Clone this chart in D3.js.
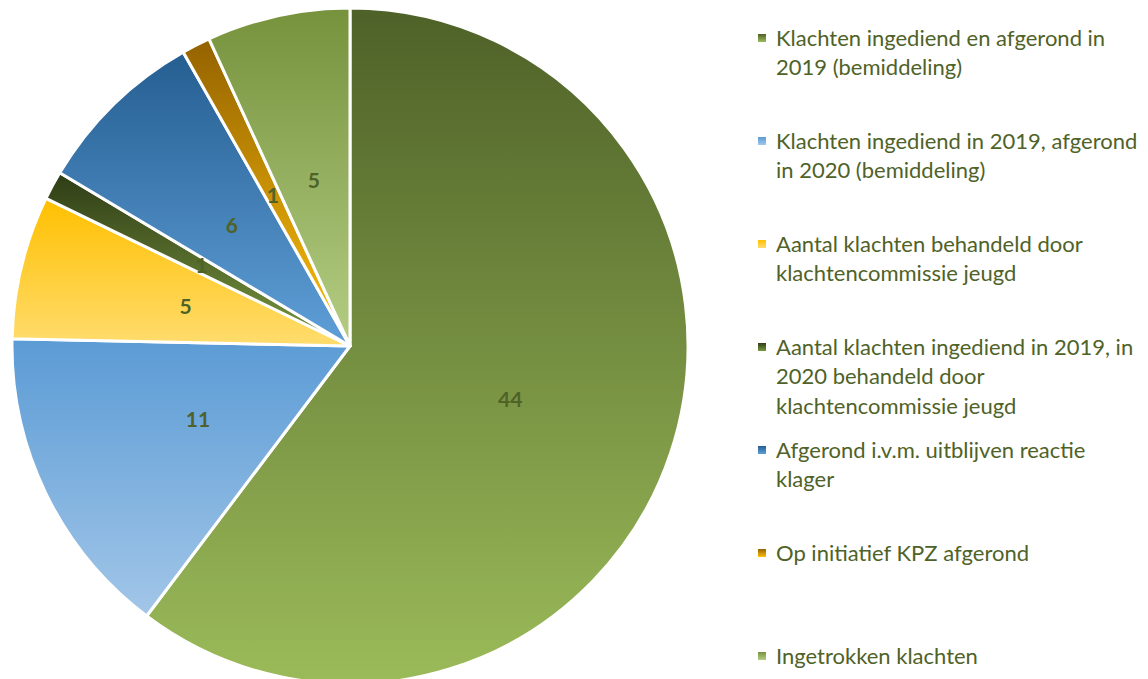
<!DOCTYPE html>
<html>
<head>
<meta charset="utf-8">
<script src="https://cdn.jsdelivr.net/npm/d3@7"></script>
<style>
  body { margin: 0; background: #fff; }
  svg { display: block; }
</style>
</head>
<body>
<div id="chart"></div>
<script>
// ---- data ----
var categories = [
  ["Klachten ingediend en afgerond in", "2019 (bemiddeling)"],
  ["Klachten ingediend in 2019, afgerond", "in 2020 (bemiddeling)"],
  ["Aantal klachten behandeld door", "klachtencommissie jeugd"],
  ["Aantal klachten ingediend in 2019, in", "2020 behandeld door", "klachtencommissie jeugd"],
  ["Afgerond i.v.m. uitblijven reactie", "klager"],
  ["Op initiatief KPZ afgerond"],
  ["Ingetrokken klachten"]
];
var values = [44, 11, 5, 1, 6, 1, 5];

// gradient colours (top -> bottom) per slice
var gradTop    = ["#4e6128", "#5b9bd5", "#ffc000", "#2f3c16", "#255e91", "#946200", "#76923c"];
var gradBottom = ["#9bbb59", "#a2c6e8", "#ffdc6e", "#7a9940", "#5f9fd8", "#ffc20a", "#b4cd84"];

var labelColor = "#4f6228";

// ---- layout ----
var width = 1148, height = 679;
var cx = 350, cy = 346, radius = 338;

var svg = d3.select("#chart").append("svg")
  .attr("width", width)
  .attr("height", height);

var defs = svg.append("defs");
values.forEach(function(v, i) {
  var g = defs.append("linearGradient")
    .attr("id", "grad" + i)
    .attr("x1", 0).attr("y1", 0).attr("x2", 0).attr("y2", 1);
  g.append("stop").attr("offset", "0%").attr("stop-color", gradTop[i]);
  g.append("stop").attr("offset", "100%").attr("stop-color", gradBottom[i]);
});

var pie = d3.pie().sort(null).value(function(d) { return d; });
var arcs = pie(values);

var arc = d3.arc().innerRadius(0).outerRadius(radius);
var labelArc = d3.arc().innerRadius(radius * 0.5).outerRadius(radius * 0.5);

var g = svg.append("g").attr("transform", "translate(" + cx + "," + cy + ")");

g.selectAll("path.slice")
  .data(arcs)
  .enter()
  .append("path")
    .attr("class", "slice")
    .attr("d", arc)
    .attr("fill", function(d, i) { return "url(#grad" + i + ")"; })
    .attr("stroke", "#fff")
    .attr("stroke-width", 3)
    .attr("stroke-linejoin", "round");

g.selectAll("text.lbl")
  .data(arcs)
  .enter()
  .append("text")
    .attr("class", "lbl")
    .attr("transform", function(d) { return "translate(" + labelArc.centroid(d) + ")"; })
    .attr("text-anchor", "middle")
    .attr("dy", "0.36em")
    .style("font-family", "Lato, 'Open Sans', sans-serif")
    .style("font-weight", "bold")
    .style("font-size", "21px")
    .style("fill", labelColor)
    .text(function(d) { return d.data; });

// ---- legend ----
var legendX = 758, legendY0 = 38, legendStep = 103, lineH = 29.5;

var leg = svg.append("g").attr("class", "legend");

var items = leg.selectAll("g.item")
  .data(categories)
  .enter()
  .append("g")
    .attr("class", "item")
    .attr("transform", function(d, i) { return "translate(" + legendX + "," + (legendY0 + i * legendStep) + ")"; });

items.append("rect")
  .attr("x", 0).attr("y", -4)
  .attr("width", 8).attr("height", 8)
  .attr("fill", function(d, i) { return "url(#grad" + i + ")"; });

items.append("text")
  .attr("x", 18)
  .attr("y", 0)
  .style("font-family", "Lato, 'Open Sans', sans-serif")
  .style("font-size", "22px")
  .style("fill", labelColor)
  .selectAll("tspan")
  .data(function(d) { return d; })
  .enter()
  .append("tspan")
    .attr("x", 18)
    .attr("y", function(d, j) { return j * lineH; })
    .attr("dy", "0.35em")
    .text(function(d) { return d; });
</script>
</body>
</html>
